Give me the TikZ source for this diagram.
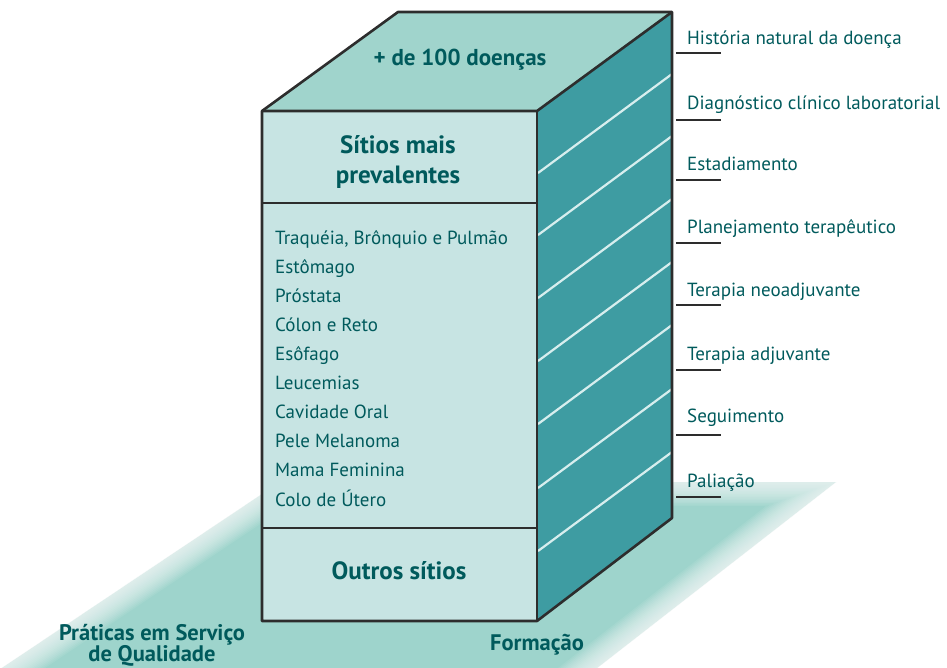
\documentclass[tikz,border=0pt]{standalone}
\usepackage{fontspec}
\setmainfont{PT Sans}
\definecolor{txt}{HTML}{005A5C}
\definecolor{floorcol}{RGB}{158,212,204}
\definecolor{topcol}{RGB}{160,212,204}
\definecolor{frontcol}{RGB}{199,228,227}
\definecolor{sidecol}{RGB}{62,156,162}
\definecolor{stripecol}{RGB}{215,238,238}
\definecolor{edgecol}{RGB}{45,45,45}
\begin{document}
\begin{tikzpicture}[x=1pt,y=-1pt,
  edge/.style={draw=edgecol,line width=2.6pt,line join=round},
  item/.style={anchor=base west,inner sep=0pt,text=txt,font=\fontsize{19}{22}\selectfont},
  lbl/.style={anchor=base west,inner sep=0pt,text=txt,font=\fontsize{19}{22}\selectfont},
  title/.style={inner sep=0pt,text=txt,font=\bfseries\fontsize{25}{30}\selectfont,align=center},
  floortitle/.style={inner sep=0pt,text=txt,font=\bfseries\fontsize{22.5}{21}\selectfont,align=center},
  uline/.style={draw=edgecol,line width=1.5pt},
  stripe/.style={draw=stripecol,line width=2.2pt}]
\useasboundingbox (0,0) rectangle (947,667);
% floor
\fill[floorcol] (280,482) -- (836,482) -- (556,700) -- (-46,700) -- cycle;
\foreach \w in {3,6,...,48}
  \draw[white,line width=\w pt,opacity=0.075,line join=round] (280,482) -- (836,482) -- (556,700) -- (-46,700) -- cycle;
% box corners
\coordinate (FTL) at (262,111);
\coordinate (FTR) at (537,111);
\coordinate (FBL) at (262,621);
\coordinate (FBR) at (537,621);
\coordinate (BTL) at (398,12);
\coordinate (BTR) at (672,12);
\coordinate (BBR) at (672,518);
\coordinate (D1L) at (262,203);
\coordinate (D1R) at (537,203);
\coordinate (D2L) at (262,528);
\coordinate (D2R) at (537,528);
% faces
\fill[topcol] (FTL) -- (BTL) -- (BTR) -- (FTR) -- cycle;
\fill[sidecol] (FTR) -- (BTR) -- (BBR) -- (FBR) -- cycle;
\fill[frontcol] (FTL) rectangle (FBR);
\foreach \y in {173,235,298,361,424,488,551}
  \draw[stripe] (538,\y) -- ++(134,-99);
% edges
\draw[edge] (FTL) -- (BTL) -- (BTR) -- (BBR) -- (FBR) -- (FBL) -- cycle;
\draw[edge] (FTL) -- (FTR) -- (BTR);
\draw[edge] (FTR) -- (FBR);
\draw[edge] (D1L) -- (D1R);
\draw[edge] (D2L) -- (D2R);
% texts on box
\node[title,font=\bfseries\fontsize{23}{28}\selectfont] (top) at (460,60) {+ de 100 doenças};
\node[title] (sitios) at (398,162) {Sítios mais\\prevalentes};
\node[title] (outros) at (399,571) {Outros sítios};
\node[item] (i1) at (275,244) {Traquéia, Brônquio e Pulmão};
\node[item] (i2) at (275,273) {Estômago};
\node[item] (i3) at (275,302) {Próstata};
\node[item] (i4) at (275,331) {Cólon e Reto};
\node[item] (i5) at (275,360) {Esôfago};
\node[item] (i6) at (275,389) {Leucemias};
\node[item] (i7) at (275,418) {Cavidade Oral};
\node[item] (i8) at (275,447) {Pele Melanoma};
\node[item] (i9) at (275,476) {Mama Feminina};
\node[item] (i10) at (275,506) {Colo de Útero};
% right labels
\node[lbl] (r1) at (687,44) {História natural da doença};
\node[lbl] (r2) at (687,109) {Diagnóstico clínico laboratorial};
\node[lbl] (r3) at (687,170) {Estadiamento};
\node[lbl] (r4) at (687,233) {Planejamento terapêutico};
\node[lbl] (r5) at (687,296) {Terapia neoadjuvante};
\node[lbl] (r6) at (687,360) {Terapia adjuvante};
\node[lbl] (r7) at (687,422) {Seguimento};
\node[lbl] (r8) at (687,487) {Paliação};
\foreach \y in {53,120,180,243,305,370,435,497}
  \draw[uline] (676,\y) -- (721,\y);
% floor labels
\node[floortitle] (prat) at (152,645) {Práticas em Serviço\\de Qualidade};
\node[floortitle] (form) at (537,645) {Formação};
\end{tikzpicture}
\end{document}
